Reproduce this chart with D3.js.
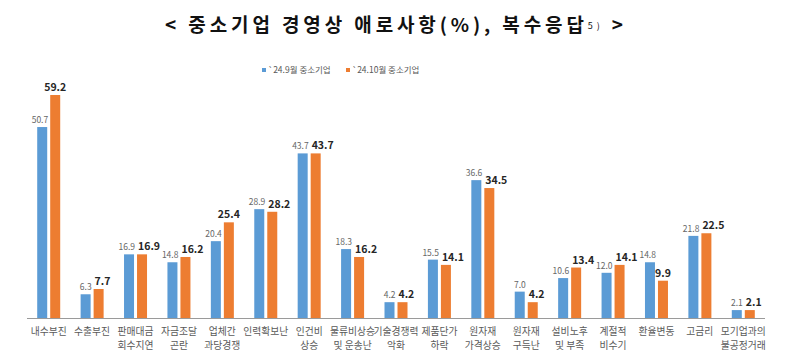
<!DOCTYPE html>
<html>
<head>
<meta charset="utf-8">
<script src="https://cdn.jsdelivr.net/npm/d3@7"></script>
<style>
  body { margin: 0; background: #fff; }
  svg { display: block; font-family: "Noto Sans CJK KR", "Noto Sans", sans-serif; }
</style>
</head>
<body>
<svg id="chart" width="792" height="363"></svg>
<script>
// Categories (two-line tick labels split on "\n")
const categories = [
  '내수부진', '수출부진', '판매대금\n회수지연', '자금조달\n곤란', '업체간\n과당경쟁',
  '인력확보난', '인건비\n상승', '물류비상승\n및 운송난', '기술경쟁력\n악화', '제품단가\n하락',
  '원자재\n가격상승', '원자재\n구득난', '설비노후\n및 부족', '계절적\n비수기', '환율변동',
  '고금리', '모기업과의\n불공정거래'
];
const sepValues = [50.7, 6.3, 16.9, 14.8, 20.4, 28.9, 43.7, 18.3, 4.2, 15.5, 36.6, 7.0, 10.6, 12.0, 14.8, 21.8, 2.1];
const octValues = [59.2, 7.7, 16.9, 16.2, 25.4, 28.2, 43.7, 16.2, 4.2, 14.1, 34.5, 4.2, 13.4, 14.1, 9.9, 22.5, 2.1];
const seriesNames = ['`24.9월 중소기업', '`24.10월 중소기업'];
const colors = ['#5b9bd5', '#ed7d31'];

const svg = d3.select('#chart');

// Title
const title = svg.append('text')
  .attr('x', 165)
  .attr('y', 32)
  .attr('font-size', 19)
  .attr('font-weight', 700)
  .attr('fill', '#111');
title.append('tspan').text('< 중소기업 경영상 애로사항(%), 복수응답');
title.append('tspan').attr('font-size', 9).attr('font-weight', 400).attr('dy', -3).text('5)');
title.append('tspan').attr('dy', 3).text(' >');
// stretch the title to the reference width
title.attr('textLength', 458).attr('lengthAdjust', 'spacing');

// Legend
const legendX = [262, 346];
seriesNames.forEach((name, i) => {
  svg.append('rect')
    .attr('x', legendX[i]).attr('y', 68)
    .attr('width', 4).attr('height', 4)
    .attr('fill', colors[i]);
  svg.append('text')
    .attr('x', legendX[i] + 6).attr('y', 73)
    .attr('font-size', 8.5)
    .attr('fill', '#595959')
    .text(name);
});

// Scales
const x = d3.scaleBand()
  .domain(categories)
  .range([27, 765]);

const y = d3.scaleLinear()
  .domain([0, 60])
  .range([318, 92]);

const barW = 10;
const gap = 3;

const g = svg.append('g');

categories.forEach((cat, i) => {
  const cx = x(cat) + x.bandwidth() / 2;
  const bx = cx - gap / 2 - barW;
  const ox = cx + gap / 2;

  g.append('rect')
    .attr('x', bx).attr('y', y(sepValues[i]))
    .attr('width', barW).attr('height', y(0) - y(sepValues[i]))
    .attr('fill', colors[0]);
  g.append('rect')
    .attr('x', ox).attr('y', y(octValues[i]))
    .attr('width', barW).attr('height', y(0) - y(octValues[i]))
    .attr('fill', colors[1]);

  // blue value label: right-aligned to the bar's right edge
  g.append('text')
    .attr('x', bx + barW + 1)
    .attr('y', y(sepValues[i]) - 4)
    .attr('text-anchor', 'end')
    .attr('font-size', 8.5)
    .attr('fill', '#666')
    .text(sepValues[i].toFixed(1));

  // orange value label: centered, pushed right if it would hit the blue label
  const ol = g.append('text')
    .attr('y', y(octValues[i]) - 4)
    .attr('font-size', 10.5)
    .attr('font-weight', 700)
    .attr('fill', '#262626')
    .text(octValues[i].toFixed(1));
  const w = ol.node().getComputedTextLength();
  let start = ox + barW / 2 - w / 2;
  const blueEnd = bx + barW + 1;
  if (Math.abs(y(sepValues[i]) - y(octValues[i])) < 11) {
    start = Math.max(start, blueEnd + 3);
  }
  ol.attr('x', start);
});

// Baseline
svg.append('line')
  .attr('x1', 27).attr('x2', 765)
  .attr('y1', y(0) + 0.5).attr('y2', y(0) + 0.5)
  .attr('stroke', '#9a9a9a')
  .attr('stroke-width', 1);

// Category labels
categories.forEach(cat => {
  const cx = x(cat) + x.bandwidth() / 2;
  cat.split('\n').forEach((line, j) => {
    svg.append('text')
      .attr('x', cx)
      .attr('y', 335 + j * 14)
      .attr('text-anchor', 'middle')
      .attr('font-size', 9.8)
      .attr('fill', '#595959')
      .text(line);
  });
});
</script>
</body>
</html>
